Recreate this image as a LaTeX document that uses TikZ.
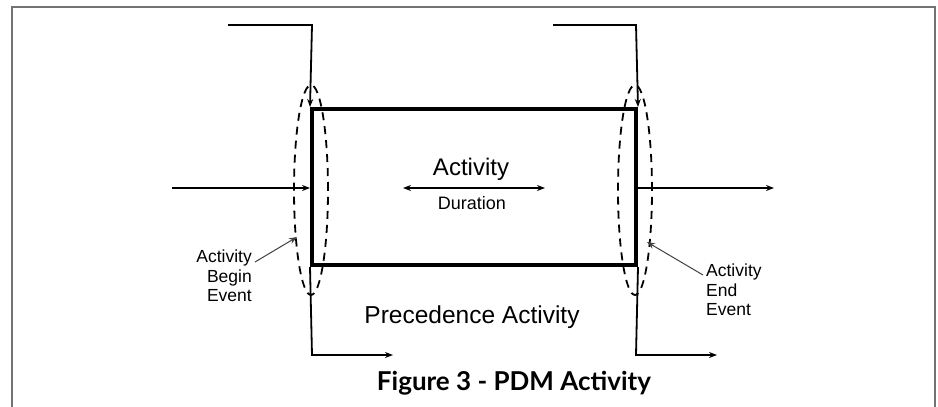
\documentclass[tikz,border=0pt]{standalone}
\usepackage{fontspec}
\setmainfont{Liberation Sans}
\newfontfamily\titlefont{Lato}
\usetikzlibrary{arrows.meta,shapes.geometric}
\begin{document}
\begin{tikzpicture}[x=1pt,y=-1pt,
  conn/.style={line width=1.8pt,-{Stealth[length=8pt,width=6pt]}},
  actbox/.style={draw,line width=4pt,minimum width=324pt,minimum height=156pt,inner sep=0pt},
  evt/.style={ellipse,draw,dash pattern=on 8pt off 6pt,line width=1.8pt,minimum width=34pt,minimum height=210pt,inner sep=0pt},
  lbl/.style={font=\fontsize{17.5}{19.5}\selectfont,inner sep=0pt},
  pointer/.style={line width=1pt,draw=black!75,-{Stealth[length=8pt,width=6pt]}},
  frame/.style={draw=black!55,line width=1.6pt}
]
\useasboundingbox (0,0) rectangle (938,407);
% outer frame
\draw[frame] (12,407) -- (12,7) -- (935,7) -- (935,407);
% activity box
\node[actbox] (box) at (474,187) {};
% event ellipses
\node[evt] (bev) at (311,190) {};
\node[evt] (eev) at (635,190) {};
% coordinates
\coordinate (tl0) at (228,25);
\coordinate (tl1) at (312,25);
\coordinate (tr0) at (553,25);
\coordinate (tr1) at (636,25);
\coordinate (lin) at (172,188);
\coordinate (rout) at (774,188);
\coordinate (bl1) at (312,355);
\coordinate (bl2) at (393,355);
\coordinate (br1) at (636,355);
\coordinate (br2) at (717,355);
% predecessor/successor links
\draw[conn] (tl0) -- (tl1) -- (box.north west);
\draw[conn] (tr0) -- (tr1) -- (box.north east);
\draw[conn] (lin) -- (lin -| box.west);
\draw[conn] (box.east |- rout) -- (rout);
\draw[conn] (box.south west) -- (bl1) -- (bl2);
\draw[conn] (box.south east) -- (br1) -- (br2);
% texts in box
\node[font=\fontsize{24}{28}\selectfont,anchor=base,inner sep=0pt] (act) at (471,175) {Activity};
\coordinate (dl) at (403,188);
\coordinate (dr) at (545,188);
\draw[line width=1.8pt,{Stealth[length=8pt,width=6pt]}-{Stealth[length=8pt,width=6pt]}] (dl) -- (dr);
\node[font=\fontsize{18}{21}\selectfont,anchor=base,inner sep=0pt] (dur) at (472,209) {Duration};
\node[font=\fontsize{24.5}{28}\selectfont,anchor=base,inner sep=0pt] (prec) at (472,323) {Precedence Activity};
% event labels
\node[lbl,align=right,anchor=north east] (blab) at (252,250) {Activity\\Begin\\Event};
\node[lbl,align=left,anchor=north west] (elab) at (706,264) {Activity\\End\\Event};
\coordinate (bt) at (255,262);
\coordinate (bh) at (297,237);
\coordinate (et) at (703,275);
\coordinate (eh) at (647,242);
\draw[pointer] (bt) -- (bh);
\draw[pointer] (et) -- (eh);
% title
\node[font=\titlefont\bfseries\fontsize{26}{30}\selectfont,anchor=base,inner sep=0pt] (title) at (514,390) {Figure 3 - PDM Activity};
\end{tikzpicture}
\end{document}
